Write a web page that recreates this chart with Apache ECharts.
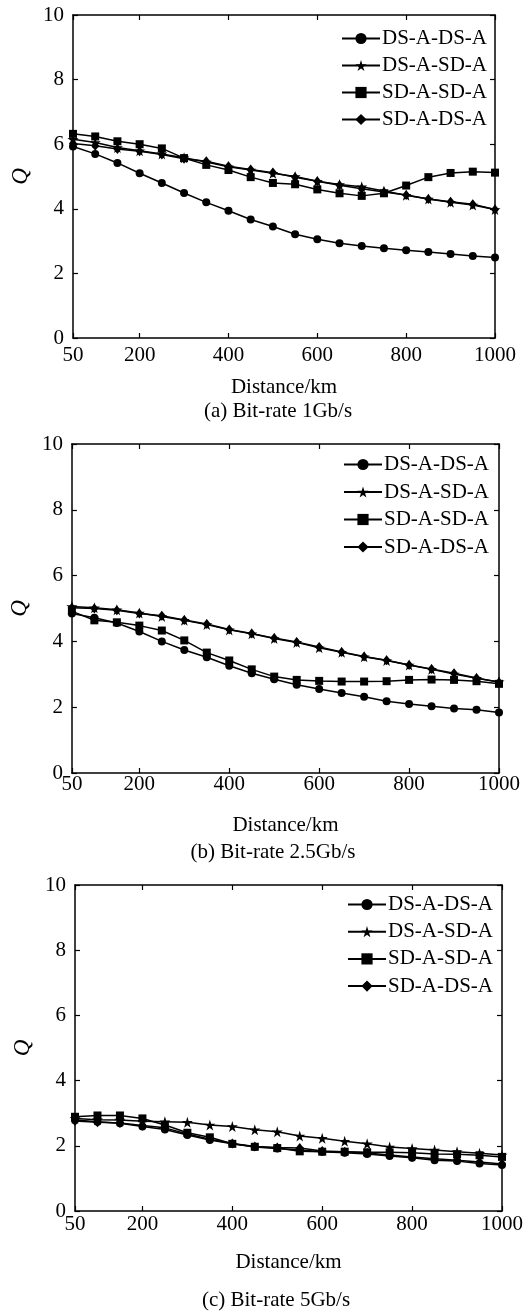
<!DOCTYPE html>
<html>
<head>
<meta charset="utf-8">
<script src="https://cdn.jsdelivr.net/npm/echarts@6/dist/echarts.min.js"></script>
<style>
  html, body { margin: 0; padding: 0; background: #fff; }
  #chart { width: 529px; height: 1313px; }
</style>
</head>
<body>
<div id="chart"></div>
<script>
// distance (km) for every point
var distances = [50, 100, 150, 200, 250, 300, 350, 400, 450, 500, 550, 600, 650, 700, 750, 800, 850, 900, 950, 1000];
var xTicks = [50, 200, 400, 600, 800, 1000];
var seriesNames = ["DS-A-DS-A", "DS-A-SD-A", "SD-A-SD-A", "SD-A-DS-A"];
var captions = ["(a) Bit-rate 1Gb/s", "(b) Bit-rate 2.5Gb/s", "(c) Bit-rate 5Gb/s"];

// (a) 1Gb/s
var a_DSDS = [5.93, 5.70, 5.42, 5.10, 4.80, 4.49, 4.20, 3.94, 3.67, 3.45, 3.21, 3.06, 2.93, 2.85, 2.78, 2.72, 2.66, 2.60, 2.54, 2.49];
var a_DSSD = [6.15, 6.05, 5.90, 5.80, 5.70, 5.58, 5.45, 5.30, 5.20, 5.10, 5.00, 4.85, 4.75, 4.68, 4.55, 4.42, 4.30, 4.20, 4.12, 3.98];
var a_SDSD = [6.32, 6.24, 6.09, 6.00, 5.87, 5.57, 5.36, 5.20, 4.98, 4.80, 4.76, 4.60, 4.48, 4.40, 4.48, 4.72, 4.98, 5.11, 5.15, 5.12];
var a_SDDS = [6.02, 5.95, 5.85, 5.78, 5.68, 5.55, 5.47, 5.32, 5.22, 5.12, 4.98, 4.85, 4.73, 4.62, 4.52, 4.43, 4.30, 4.22, 4.14, 3.98];

// (b) 2.5Gb/s
var b_DSDS = [4.85, 4.72, 4.56, 4.30, 4.00, 3.74, 3.52, 3.26, 3.03, 2.85, 2.68, 2.55, 2.43, 2.32, 2.18, 2.10, 2.03, 1.96, 1.92, 1.84];
var b_DSSD = [5.06, 5.02, 4.96, 4.86, 4.76, 4.64, 4.51, 4.35, 4.23, 4.09, 3.97, 3.81, 3.67, 3.53, 3.42, 3.28, 3.15, 3.01, 2.88, 2.77];
var b_SDSD = [4.92, 4.64, 4.58, 4.48, 4.33, 4.03, 3.66, 3.42, 3.15, 2.93, 2.83, 2.80, 2.78, 2.78, 2.79, 2.83, 2.84, 2.83, 2.79, 2.71];
var b_SDDS = [5.02, 5.00, 4.95, 4.85, 4.78, 4.65, 4.53, 4.36, 4.24, 4.10, 3.98, 3.83, 3.68, 3.54, 3.43, 3.28, 3.16, 3.03, 2.89, 2.76];

// (c) 5Gb/s
var c_DSDS = [2.79, 2.74, 2.69, 2.59, 2.50, 2.33, 2.18, 2.06, 1.96, 1.92, 1.87, 1.82, 1.79, 1.75, 1.69, 1.63, 1.56, 1.53, 1.46, 1.41];
var c_DSSD = [2.84, 2.80, 2.79, 2.75, 2.74, 2.72, 2.64, 2.59, 2.49, 2.43, 2.30, 2.23, 2.14, 2.06, 1.96, 1.92, 1.87, 1.82, 1.77, 1.72];
var c_SDSD = [2.89, 2.93, 2.93, 2.84, 2.64, 2.40, 2.26, 2.06, 1.97, 1.93, 1.83, 1.82, 1.82, 1.80, 1.80, 1.79, 1.75, 1.74, 1.71, 1.66];
var c_SDDS = [2.76, 2.72, 2.70, 2.62, 2.55, 2.36, 2.20, 2.07, 1.98, 1.95, 1.93, 1.84, 1.82, 1.78, 1.72, 1.66, 1.60, 1.56, 1.50, 1.44];

var panels = [
  [a_DSDS, a_DSSD, a_SDSD, a_SDDS],
  [b_DSDS, b_DSSD, b_SDSD, b_SDDS],
  [c_DSDS, c_DSSD, c_SDSD, c_SDDS]
];

var FONT = "Liberation Serif";
var FS = 21;
var STAR = "path://M50,0 L61,35 L98,35 L68,57 L79,91 L50,70 L21,91 L32,57 L2,35 L39,35 Z";
var symbols = ["circle", STAR, "rect", "diamond"];
var symbolSizes = [8, 11, 8, [8, 10]];

// layout of each panel
var layout = [
  { left: 73, top: 15, width: 422, height: 323, labelMargin: 7, nameGap: 39, qGap: 40, legendLeft: 341, legendTop: 28, legendGap: 6, capY: 411, capX: 278 },
  { left: 69, top: 444, width: 430, height: 329, labelMargin: 1, nameGap: 42, qGap: 31, legendLeft: 343, legendTop: 454, legendGap: 6.5, capY: 852, capX: 273 },
  { left: 75, top: 885, width: 427, height: 326, labelMargin: 3, nameGap: 41, qGap: 37, legendLeft: 347, legendTop: 894, legendGap: 6.2, capY: 1300, capX: 276 }
];

var grids = [], xAxes = [], yAxes = [], series = [], legends = [], graphics = [];
var axisLine = { show: true, onZero: false, lineStyle: { color: "#000", width: 1.5 } };
var tickStyle = { show: true, inside: true, length: 5, lineStyle: { color: "#000", width: 1.2 } };

layout.forEach(function (L, p) {
  grids.push({ left: L.left, top: L.top, width: L.width, height: L.height, containLabel: false });

  xAxes.push({
    type: "value", gridIndex: p, min: 50, max: 1000, position: "bottom",
    name: "Distance/km", nameLocation: "middle", nameGap: L.nameGap,
    nameTextStyle: { fontFamily: FONT, fontSize: FS, color: "#000" },
    axisLine: axisLine,
    axisTick: Object.assign({ customValues: xTicks }, tickStyle),
    axisLabel: {
      customValues: xTicks, margin: L.labelMargin, fontFamily: FONT, fontSize: FS, color: "#000",
      formatter: function (v) { return String(v); }
    },
    splitLine: { show: false }
  });
  xAxes.push({
    type: "value", gridIndex: p, min: 50, max: 1000, position: "top",
    axisLine: axisLine,
    axisTick: Object.assign({ customValues: xTicks }, tickStyle),
    axisLabel: { show: false },
    splitLine: { show: false }
  });

  yAxes.push({
    type: "value", gridIndex: p, min: 0, max: 10, interval: 2, position: "left",
    name: "Q", nameLocation: "middle", nameGap: L.qGap, nameRotate: 90,
    nameTextStyle: { fontFamily: FONT, fontSize: 23, fontStyle: "italic", color: "#000" },
    axisLine: axisLine,
    axisTick: tickStyle,
    axisLabel: { margin: 9, fontFamily: FONT, fontSize: FS, color: "#000" },
    splitLine: { show: false }
  });
  yAxes.push({
    type: "value", gridIndex: p, min: 0, max: 10, interval: 2, position: "right",
    axisLine: axisLine,
    axisTick: tickStyle,
    axisLabel: { show: false },
    splitLine: { show: false }
  });

  panels[p].forEach(function (vals, s) {
    series.push({
      type: "line",
      name: seriesNames[s],
      xAxisIndex: p * 2,
      yAxisIndex: p * 2,
      data: distances.map(function (d, i) { return [d, vals[i]]; }),
      symbol: symbols[s],
      symbolSize: symbolSizes[s],
      showAllSymbol: true,
      color: "#000",
      itemStyle: { color: "#000" },
      lineStyle: { color: "#000", width: 1.5 },
      animation: false
    });
  });

  legends.push({
    orient: "vertical",
    left: L.legendLeft,
    top: L.legendTop,
    itemWidth: 38,
    itemHeight: 14,
    itemGap: L.legendGap,
    padding: 0,
    data: seriesNames,
    selectedMode: false,
    textStyle: { fontFamily: FONT, fontSize: FS, color: "#000", padding: [0, 0, 0, -3] }
  });

  graphics.push({
    type: "text",
    x: L.capX,
    y: L.capY,
    style: {
      text: captions[p],
      font: FS + "px '" + FONT + "'",
      fill: "#000",
      textAlign: "center",
      textVerticalAlign: "middle"
    }
  });
});

var chart = echarts.init(document.getElementById("chart"), null, { renderer: "canvas" });
chart.setOption({
  backgroundColor: "#fff",
  animation: false,
  textStyle: { fontFamily: FONT },
  grid: grids,
  xAxis: xAxes,
  yAxis: yAxes,
  legend: legends,
  series: series,
  graphic: graphics
});
</script>
</body>
</html>
